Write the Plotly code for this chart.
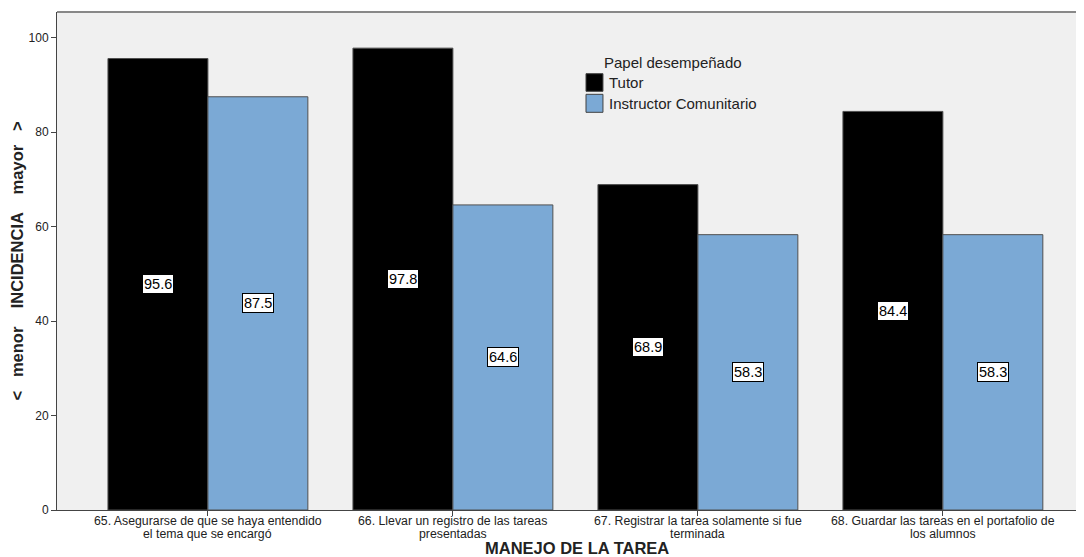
import plotly.graph_objects as go

cat_line1 = [
    "65. Asegurarse de que se haya entendido",
    "66. Llevar un registro de las tareas",
    "67. Registrar la tarea solamente si fue",
    "68. Guardar las tareas en el portafolio de",
]
cat_line2 = [
    "el tema que se encargó",
    "presentadas",
    "terminada",
    "los alumnos",
]
tutor = [95.6, 97.8, 68.9, 84.4]
instructor = [87.5, 64.6, 58.3, 58.3]
series_names = ["Tutor", "Instructor Comunitario"]
legend_title = "Papel desempeñado"
x_title = "MANEJO DE LA TAREA"
y_title = "&lt;   menor    INCIDENCIA    mayor   &gt;"
y_ticks = [0, 20, 40, 60, 80, 100]

colors = ["#000000", "#7BA9D5"]
xpos = list(range(len(cat_line1)))
FONT = "Liberation Sans, Arial, sans-serif"

fig = go.Figure()
for name, vals, col in zip(series_names, [tutor, instructor], colors):
    fig.add_trace(go.Bar(
        x=xpos, y=vals, name=name, showlegend=False,
        marker=dict(color=col, line=dict(color="#505050", width=1)),
    ))

bar_w = (1 - 0.184) / 2
for offset, vals in [(-bar_w / 2, tutor), (bar_w / 2, instructor)]:
    for i, v in enumerate(vals):
        fig.add_annotation(
            x=i + offset, y=v / 2, xref="x", yref="y",
            text=f"{v:.1f}", showarrow=False,
            bgcolor="white", bordercolor="black", borderwidth=1, borderpad=1,
            font=dict(family=FONT, size=14.5, color="black"),
        )

# category labels (two lines each, tight leading)
for i in xpos:
    for txt, shift in [(cat_line1[i], -11), (cat_line2[i], -24)]:
        fig.add_annotation(x=i, y=0, xref="x", yref="y", text=txt, showarrow=False,
                           xanchor="center", yanchor="middle", yshift=shift,
                           font=dict(family=FONT, size=12.3, color="#222"))

# x-axis title
fig.add_annotation(x=0.506, y=0, xref="paper", yref="paper", text=f"<b>{x_title}</b>",
                   showarrow=False, xanchor="center", yanchor="middle", yshift=-38,
                   font=dict(family=FONT, size=16.5, color="#222"))

# manual legend (title, swatches, labels) in paper coordinates
fig.add_annotation(x=0.5307, y=0.898, xref="paper", yref="paper", xanchor="left",
                   yanchor="middle", text=legend_title, showarrow=False,
                   font=dict(family=FONT, size=15, color="#222"))
sw_rows = [(0.8408, 0.8761), (0.7986, 0.8347)]
for (y0, y1), name, col in zip(sw_rows, series_names, colors):
    fig.add_shape(type="rect", xref="paper", yref="paper",
                  x0=0.5151, x1=0.5316, y0=y0, y1=y1,
                  fillcolor=col, line=dict(color="#404040", width=1))
    fig.add_annotation(x=0.5355, y=(y0 + y1) / 2, xref="paper", yref="paper",
                       xanchor="left", yanchor="middle", text=name, showarrow=False,
                       font=dict(family=FONT, size=15, color="#222"))

fig.update_layout(
    width=1076, height=549,
    margin=dict(l=49, r=0, t=4, b=47, autoexpand=False),
    paper_bgcolor="white",
    plot_bgcolor="#F0F0F0",
    barmode="group",
    bargap=0.184,
    bargroupgap=0,
    font=dict(family=FONT, size=12, color="#222"),
    showlegend=False,
    xaxis=dict(
        tickmode="array", tickvals=xpos, showticklabels=False,
        range=[-0.616, 3.576],
        ticks="outside", ticklen=5, tickcolor="#444",
        showline=True, linecolor="#444", linewidth=1,
        showgrid=False, zeroline=False,
    ),
    yaxis=dict(
        range=[0, 105.45],
        tickmode="array", tickvals=y_ticks,
        ticks="outside", ticklen=5, tickcolor="#444",
        showline=True, linecolor="#444", linewidth=1,
        showgrid=False, zeroline=False,
        tickfont=dict(size=12, color="#222"),
        title=dict(text=f"<b>{y_title}</b>",
                   font=dict(size=16.5, color="#222"), standoff=8),
    ),
)
fig.add_shape(type="line", xref="paper", yref="paper", x0=0, x1=1, y0=1, y1=1,
              line=dict(color="#888", width=2))

fig.write_html("out.html")
